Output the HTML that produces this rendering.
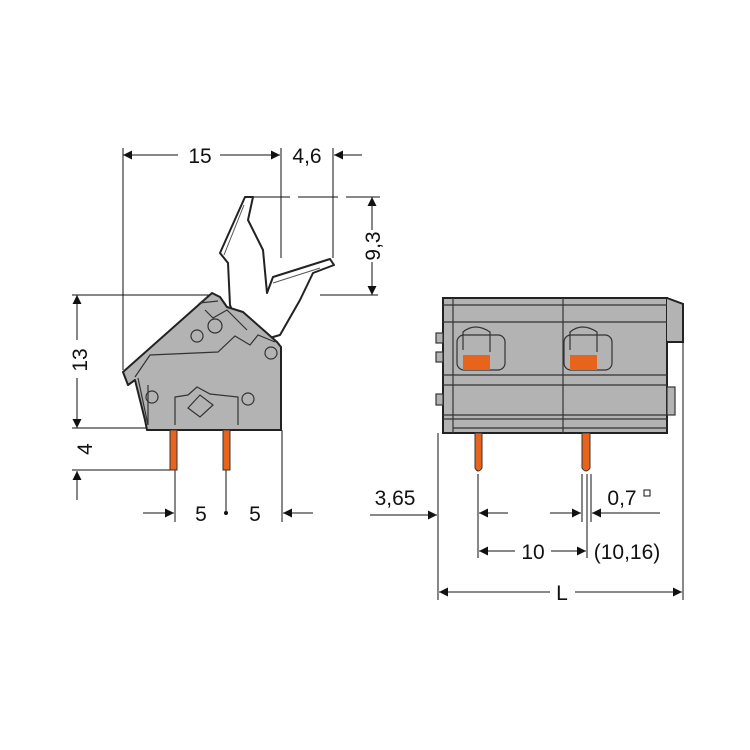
<!DOCTYPE html>
<html><head><style>body{margin:0;background:#fff}svg{display:block}text{font-family:"Liberation Sans",sans-serif;fill:#111}</style></head><body>
<svg width="750" height="750" viewBox="0 0 750 750" xmlns="http://www.w3.org/2000/svg">
<defs><marker id="a" viewBox="0 0 10 10" refX="10" refY="5" markerWidth="13" markerHeight="9" orient="auto-start-reverse" markerUnits="userSpaceOnUse"><path d="M0,0L10,5L0,10z" fill="#111"/></marker></defs>
<g stroke="#111" stroke-width="1" fill="none">
<line x1="123" y1="148" x2="123" y2="370"/>
<line x1="281" y1="148" x2="281" y2="258"/>
<line x1="333" y1="148" x2="333" y2="258"/>
<line x1="250" y1="197" x2="380" y2="197" stroke-dasharray="40,8"/>
<line x1="320" y1="295" x2="378" y2="295"/>
<line x1="72" y1="295" x2="212" y2="295"/>
<line x1="72" y1="428" x2="148" y2="428"/>
<line x1="72" y1="470" x2="172" y2="470"/>
<line x1="175" y1="470" x2="175" y2="522"/>
<line x1="226" y1="470" x2="226" y2="513"/>
<line x1="282" y1="430" x2="282" y2="522"/>
<line x1="123" y1="155" x2="178" y2="155" marker-start="url(#a)"/>
<line x1="220" y1="155" x2="280" y2="155" marker-end="url(#a)"/>
<line x1="362" y1="155" x2="334" y2="155" marker-end="url(#a)"/>
<line x1="372" y1="197" x2="372" y2="230" marker-start="url(#a)"/>
<line x1="372" y1="262" x2="372" y2="295" marker-end="url(#a)"/>
<line x1="77" y1="295" x2="77" y2="340" marker-start="url(#a)"/>
<line x1="77" y1="378" x2="77" y2="428" marker-end="url(#a)"/>
<line x1="77" y1="500" x2="77" y2="471" marker-end="url(#a)"/>
<line x1="143" y1="513" x2="174" y2="513" marker-end="url(#a)"/>
<line x1="313" y1="513" x2="283" y2="513" marker-end="url(#a)"/>
</g>
<circle cx="226" cy="513" r="2" fill="#111"/>
<path d="M245,197 L253,197 L248,220 L263,250 L267,293 L273,277 L330,259 L334,265 L313,273 L300,300 L280,335 L245,345 L230,305 L228,263 L220,253 Z" fill="#fff" stroke="#222" stroke-width="2" stroke-linejoin="round"/>
<line x1="244" y1="205" x2="224" y2="255" stroke="#555"/>
<line x1="273" y1="283" x2="320" y2="268" stroke="#555"/>
<path d="M123,372 L212,293 L220,297 L227,307 L243,312 L277,342 L281,347 L281,430 L147,430 L145,420 L135,380 L128,385 Z" fill="#b3b3b3" stroke="#222" stroke-width="2" stroke-linejoin="round"/>
<g stroke="#333" stroke-width="1.2" fill="none">
<path d="M135,377 L150,355 L218,352 L235,336 L250,345 L258,335 L275,342"/>
<path d="M148,425 L148,385 M138,378 L148,425"/>
<path d="M175,425 L175,397 L188,395 L197,387 L210,394 L238,397 L238,425"/>
<path d="M207,297 L200,303 L218,301 M205,310 L213,318 L227,310 L247,330"/>
<path d="M188,408 L200,395 L213,405 L200,417 Z"/>
<circle cx="197" cy="336" r="6"/><circle cx="215" cy="326" r="7"/><circle cx="271" cy="353" r="6"/><circle cx="152" cy="397" r="6"/><circle cx="248" cy="399" r="6"/>
</g>
<rect x="170" y="430" width="7" height="40" fill="#e8641c" stroke="#333"/>
<rect x="223" y="430" width="7" height="40" fill="#e8641c" stroke="#333"/>
<g font-size="21">
<text x="200" y="163" text-anchor="middle">15</text>
<text x="307" y="163" text-anchor="middle">4,6</text>
<text x="201" y="521" text-anchor="middle">5</text>
<text x="255" y="521" text-anchor="middle">5</text>
<text transform="translate(380,246) rotate(-90)" text-anchor="middle">9,3</text>
<text transform="translate(87,360) rotate(-90)" text-anchor="middle">13</text>
<text transform="translate(92,449) rotate(-90)" text-anchor="middle">4</text>
<text x="395" y="505" text-anchor="middle">3,65</text>
<text x="622" y="505" text-anchor="middle">0,7</text>
<text x="533" y="559" text-anchor="middle">10</text>
<text x="627" y="559" text-anchor="middle">(10,16)</text>
<text x="562" y="600" text-anchor="middle">L</text>
</g>
<rect x="644" y="490" width="6" height="6" fill="none" stroke="#111"/>
<rect x="443" y="298" width="224" height="135" fill="#b3b3b3" stroke="#222" stroke-width="2"/>
<path d="M667,298 L683,304 L683,342 L667,342" fill="#b3b3b3" stroke="#222" stroke-width="2"/>
<g stroke="#333" stroke-width="1.2" fill="#b3b3b3">
<rect x="436" y="333" width="7" height="10"/><rect x="436" y="352" width="7" height="10"/><rect x="436" y="394" width="7" height="11"/>
<rect x="667" y="387" width="8" height="28"/>
</g>
<g stroke="#333" stroke-width="1.2" fill="none">
<line x1="563" y1="298" x2="563" y2="433"/>
<line x1="453" y1="298" x2="453" y2="433"/>
<line x1="443" y1="305" x2="667" y2="305"/>
<line x1="443" y1="322" x2="667" y2="322"/>
<line x1="443" y1="375" x2="667" y2="375"/>
<line x1="443" y1="385" x2="667" y2="385"/>
<line x1="443" y1="415" x2="667" y2="415"/>
<line x1="443" y1="419" x2="667" y2="419"/>
<line x1="453" y1="428" x2="667" y2="428"/>
<rect x="457" y="335" width="48" height="35" rx="7"/>
<rect x="564" y="335" width="48" height="35" rx="7"/>
<path d="M463,350 L463,332 Q475,322 490,332 L490,352"/>
<path d="M570,350 L570,332 Q582,322 597,332 L597,352"/>
</g>
<rect x="463" y="355" width="27" height="15" fill="#e8641c"/>
<rect x="570" y="355" width="27" height="15" fill="#e8641c"/>
<path d="M475,433 L475,468 Q478,474 482,468 L482,433 Z" fill="#e8641c" stroke="#333"/>
<path d="M582,433 L582,468 Q586,474 590,468 L590,433 Z" fill="#e8641c" stroke="#333"/>
<g stroke="#111" stroke-width="1" fill="none">
<line x1="438" y1="433" x2="438" y2="600"/>
<line x1="683" y1="342" x2="683" y2="600"/>
<line x1="478" y1="474" x2="478" y2="558"/>
<line x1="582" y1="474" x2="582" y2="522"/>
<line x1="587" y1="474" x2="587" y2="558"/>
<line x1="591" y1="474" x2="591" y2="522"/>
<line x1="370" y1="515" x2="437" y2="515" marker-end="url(#a)"/>
<line x1="508" y1="513" x2="479" y2="513" marker-end="url(#a)"/>
<line x1="550" y1="513" x2="581" y2="513" marker-end="url(#a)"/>
<line x1="660" y1="513" x2="592" y2="513" marker-end="url(#a)"/>
<line x1="515" y1="551" x2="479" y2="551" marker-end="url(#a)"/>
<line x1="551" y1="551" x2="586" y2="551" marker-end="url(#a)"/>
<line x1="550" y1="592" x2="439" y2="592" marker-end="url(#a)"/>
<line x1="575" y1="592" x2="682" y2="592" marker-end="url(#a)"/>
</g>
</svg>
</body></html>
